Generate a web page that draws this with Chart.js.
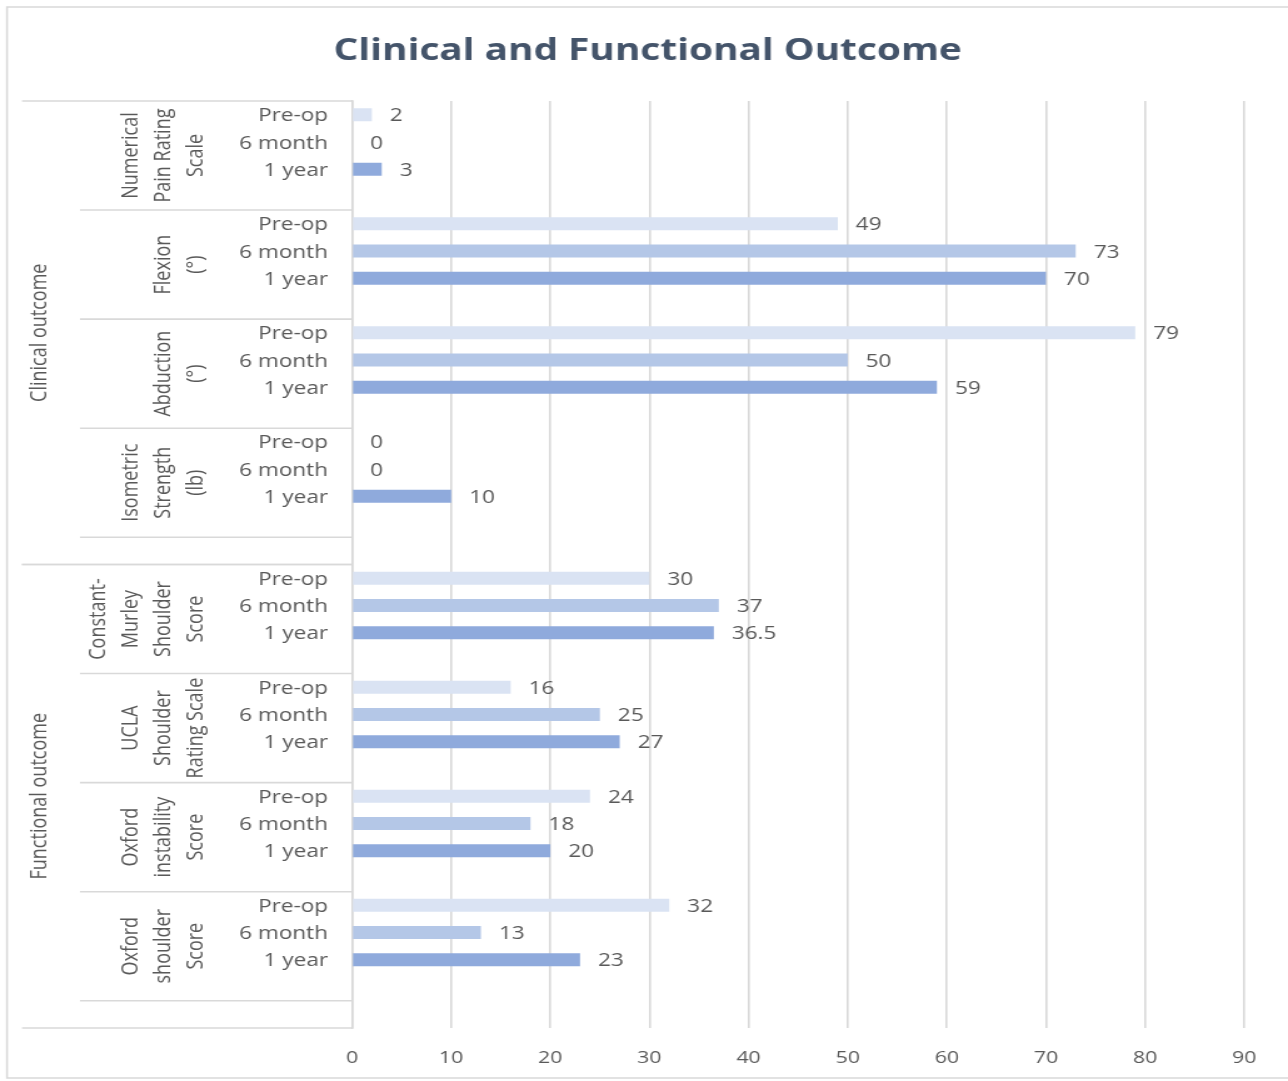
<!DOCTYPE html>
<html>
<head>
<meta charset="utf-8">
<script src="https://cdn.jsdelivr.net/npm/chart.js@4/dist/chart.umd.min.js"></script>
<style>
  html, body { margin: 0; padding: 0; background: #ffffff; }
  #chart { display: block; }
</style>
</head>
<body>
<!-- The drawing surface is rendered narrower and widened by CSS, giving the wide-set lettering -->
<canvas id="chart" width="1030" height="1081" style="width:1288px;height:1081px"></canvas>
<script>
// ---- data ----
const outcomeGroups = ['Clinical outcome', 'Functional outcome'];
const measureNames = [
  ['Numerical', 'Pain Rating', 'Scale'],
  ['Flexion', '(°)'],
  ['Abduction', '(°)'],
  ['Isometric', 'Strength', '(lb)'],
  ['Constant-', 'Murley', 'Shoulder', 'Score'],
  ['UCLA', 'Shoulder', 'Rating Scale'],
  ['Oxford', 'instability', 'Score'],
  ['Oxford', 'shoulder', 'Score']
];
const measureGroup = [0, 0, 0, 0, 1, 1, 1, 1];
const timepoints = ['Pre-op', '6 month', '1 year'];
const preOp    = [2, 49, 79, 0, 30, 16, 24, 32];
const sixMonth = [0, 73, 50, 0, 37, 25, 18, 13];
const oneYear  = [3, 70, 59, 10, 36.5, 27, 20, 23];
const xMin = 0, xMax = 90, xStep = 10;

// ---- styling ----
const seriesColors = ['#DAE3F3', '#B4C7E7', '#8FAADC'];
const lineColor = '#D9D9D9';
const textColor = '#595959';
const FONT = '"Open Sans", "DejaVu Sans", sans-serif';
const TEXT_NUDGE = 1.5; // Open Sans sits a little high with textBaseline 'middle'

// ---- rows of the three-level category axis ----
// each measure: three time points plus one empty row; each outcome group ends with one empty row
const rows = [];
const measureSpans = [];
const groupSpans = [];
outcomeGroups.forEach((groupName, gi) => {
  const gStart = rows.length;
  measureNames.forEach((names, mi) => {
    if (measureGroup[mi] !== gi) return;
    const mStart = rows.length;
    timepoints.forEach((t, ti) => rows.push({ label: t, measure: mi, time: ti }));
    rows.push({ label: '', measure: mi, time: -1 });
    measureSpans.push({ start: mStart, end: rows.length, names });
  });
  rows.push({ label: '', measure: -1, time: -1 });
  groupSpans.push({ start: gStart, end: rows.length, name: groupName });
});

const series = [preOp, sixMonth, oneYear];
const datasets = timepoints.map((t, ti) => ({
  label: t,
  data: rows.map(r => (r.time === ti ? series[ti][r.measure] : null)),
  backgroundColor: seriesColors[ti],
  borderWidth: 0,
  grouped: false,
  categoryPercentage: 1,
  barPercentage: 0.477
}));

// ---- plugins ----
const edge = (scale, i) => scale.getPixelForValue(i - 0.5);

const framePlugin = {
  id: 'frame',
  beforeDraw(chart) {
    const { ctx, width, height } = chart;
    ctx.save();
    ctx.fillStyle = '#ffffff';
    ctx.fillRect(0, 0, width, height);
    ctx.strokeStyle = lineColor;
    ctx.lineWidth = 1.5;
    ctx.beginPath();
    ctx.moveTo(width + 5, 7);
    ctx.lineTo(5.6, 7);
    ctx.lineTo(5.6, 1078);
    ctx.lineTo(width + 5, 1078);
    ctx.stroke();
    ctx.restore();
  }
};

const categoryAxisPlugin = {
  id: 'categoryAxis',
  afterDraw(chart) {
    const { ctx } = chart;
    const y = chart.scales.y;
    const axisX = y.right;
    ctx.save();

    // divider lines between measures and between outcome groups
    ctx.strokeStyle = lineColor;
    ctx.lineWidth = 1.6;
    const hline = (yy, x0) => {
      ctx.beginPath();
      ctx.moveTo(x0, yy);
      ctx.lineTo(axisX, yy);
      ctx.stroke();
    };
    measureSpans.forEach(m => hline(edge(y, m.end), 64));
    groupSpans.forEach(g => {
      hline(edge(y, g.start), 17.6);
      hline(edge(y, g.end), 17.6);
    });

    ctx.fillStyle = textColor;
    ctx.font = '18px ' + FONT;

    // innermost level: time point labels
    ctx.textAlign = 'right';
    ctx.textBaseline = 'middle';
    rows.forEach((r, i) => {
      if (r.label) ctx.fillText(r.label, axisX - 19.2, y.getPixelForValue(i) + TEXT_NUDGE);
    });

    // rotated labels
    const rotated = (text, cx, cy) => {
      ctx.save();
      ctx.translate(cx, cy);
      ctx.rotate(-Math.PI / 2);
      ctx.textAlign = 'center';
      ctx.textBaseline = 'middle';
      ctx.fillText(text, 0, 0);
      ctx.restore();
    };

    // middle level: measure names, stacked so the last line sits next to the time labels
    measureSpans.forEach(m => {
      const cy = (edge(y, m.start) + edge(y, m.end)) / 2;
      const n = m.names.length;
      m.names.forEach((line, k) => rotated(line, 156.7 - (n - 1 - k) * 26, cy));
    });

    // outer level: outcome groups
    groupSpans.forEach(g => {
      const cy = (edge(y, g.start) + edge(y, g.end)) / 2;
      rotated(g.name, 32, cy);
    });

    // value labels at the end of each bar
    ctx.textAlign = 'left';
    ctx.textBaseline = 'middle';
    chart.data.datasets.forEach((ds, di) => {
      const meta = chart.getDatasetMeta(di);
      meta.data.forEach((bar, i) => {
        const v = ds.data[i];
        if (v === null || v === undefined) return;
        const { x, y: by } = bar.getProps(['x', 'y'], true);
        ctx.fillText(String(v), x + 14.4, by + TEXT_NUDGE);
      });
    });

    ctx.restore();
  }
};

new Chart(document.getElementById('chart'), {
  type: 'bar',
  data: { labels: rows.map(r => r.label), datasets },
  options: {
    indexAxis: 'y',
    responsive: false,
    devicePixelRatio: 1,
    animation: false,
    layout: { padding: { left: 41, right: 35, top: 0, bottom: 0 } },
    plugins: {
      legend: { display: false },
      tooltip: { enabled: false },
      title: {
        display: true,
        text: 'Clinical and Functional Outcome',
        color: '#44546A',
        font: { family: FONT, size: 31, weight: 'bold' },
        padding: { top: 33, bottom: 30.8 }
      }
    },
    scales: {
      x: {
        type: 'linear',
        position: 'bottom',
        min: xMin,
        max: xMax,
        ticks: {
          stepSize: xStep,
          color: textColor,
          font: { family: FONT, size: 17 },
          padding: 20
        },
        grid: { color: lineColor, lineWidth: 1.6, drawTicks: false },
        border: { display: false },
        afterFit(scale) { scale.height = 53; }
      },
      y: {
        type: 'category',
        position: 'left',
        ticks: { display: false },
        grid: { display: false, drawTicks: false },
        border: { display: true, color: lineColor, width: 1.6 },
        afterFit(scale) { scale.width = 240.5; }
      }
    }
  },
  plugins: [framePlugin, categoryAxisPlugin]
});
</script>
</body>
</html>
